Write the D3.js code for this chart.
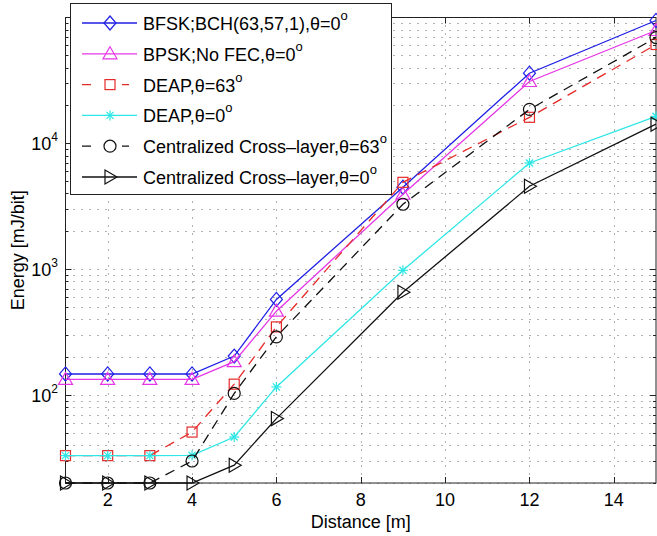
<!DOCTYPE html>
<html lang="en">
<head>
<meta charset="UTF-8">
<title>Energy vs Distance</title>
<script src="https://d3js.org/d3.v7.min.js"></script>
<style>
    body { margin: 0; background: #fff; }
    svg { display: block; font-family: "Liberation Sans", Arial, sans-serif; }
    .tick-label { font-size: 18px; fill: #000; }
    .legend-text { font-size: 18px; fill: #000; }
</style>
</head>
<body>
<svg width="657" height="536"></svg>
<script>
    // data
    const distance = [1, 2, 3, 4, 5, 6, 9, 12, 15];
    const bfskBch = [147, 147, 147, 147, 204, 575, 4480, 36100, 94700];
    const bpskNoFec = [133, 133, 133, 133, 184, 464, 3940, 31000, 78800];
    const deap63 = [33, 33, 33, 50.8, 122, 348, 4900, 16100, 61000];
    const deap0 = [33, 33, 33, 33.2, 46.4, 116, 980, 6980, 16400];
    const cross63 = [20, 20, 20, 29.9, 103, 290, 3280, 18600, 69300];
    const cross0 = [20, 20, 20, 20, 27.7, 65, 656, 4560, 14200];

    const xTicks = [2, 4, 6, 8, 10, 12, 14];
    const yMajor = [100, 1000, 10000];

    const series = [
        {name: "BFSK;BCH(63,57,1),θ=0", values: bfskBch, color: "#1f1fe6", dash: null, marker: "diamond"},
        {name: "BPSK;No FEC,θ=0", values: bpskNoFec, color: "#e636e6", dash: null, marker: "triUp"},
        {name: "DEAP,θ=63", values: deap63, color: "#e62a2a", dash: "10,7", marker: "square"},
        {name: "DEAP,θ=0", values: deap0, color: "#2de6e6", dash: null, marker: "star"},
        {name: "Centralized Cross\u2013layer,θ=63", values: cross63, color: "#111", dash: "10,7", marker: "circle"},
        {name: "Centralized Cross\u2013layer,θ=0", values: cross0, color: "#111", dash: null, marker: "triRight"}
    ];

    const svg = d3.select("svg");
    const pLeft = 65.5, pRight = 656, pTop = 17.5, pBottom = 483;

    const x = d3.scaleLinear().domain([1, 15]).range([pLeft, pRight]);
    const y = d3.scaleLog().domain([20, 100000]).range([pBottom, pTop]);

    // minor values for the log axis
    let yMinor = [];
    [10, 100, 1000, 10000].forEach(function (dec) {
        for (let k = 2; k <= 9; k++) {
            const v = dec * k;
            if (v >= 20 && v < 100000) yMinor.push(v);
        }
    });

    // grid
    const grid = svg.append("g").attr("stroke", "#666").attr("stroke-width", 1)
        .attr("stroke-dasharray", "1,7");
    grid.selectAll(".gx").data(xTicks).enter().append("line")
        .attr("x1", d => Math.round(x(d)) + 0.5).attr("x2", d => Math.round(x(d)) + 0.5)
        .attr("y1", pTop).attr("y2", pBottom);
    grid.selectAll(".gy").data(yMinor.concat(yMajor)).enter().append("line")
        .attr("x1", pLeft).attr("x2", pRight)
        .attr("y1", d => Math.round(y(d)) + 0.5).attr("y2", d => Math.round(y(d)) + 0.5);

    // axes box and ticks
    const axes = svg.append("g").attr("stroke", "#222").attr("stroke-width", 1);
    axes.append("rect").attr("x", pLeft).attr("y", pTop)
        .attr("width", pRight - pLeft).attr("height", pBottom - pTop).attr("fill", "none");
    xTicks.forEach(function (t) {
        const px = Math.round(x(t)) + 0.5;
        axes.append("line").attr("x1", px).attr("x2", px).attr("y1", pBottom).attr("y2", pBottom - 6);
        axes.append("line").attr("x1", px).attr("x2", px).attr("y1", pTop).attr("y2", pTop + 6);
    });
    yMajor.forEach(function (t) {
        const py = Math.round(y(t)) + 0.5;
        axes.append("line").attr("x1", pLeft).attr("x2", pLeft + 6).attr("y1", py).attr("y2", py);
        axes.append("line").attr("x1", pRight).attr("x2", pRight - 6).attr("y1", py).attr("y2", py);
    });
    yMinor.forEach(function (t) {
        const py = Math.round(y(t)) + 0.5;
        axes.append("line").attr("x1", pLeft).attr("x2", pLeft + 3).attr("y1", py).attr("y2", py);
        axes.append("line").attr("x1", pRight).attr("x2", pRight - 3).attr("y1", py).attr("y2", py);
    });

    // tick labels
    svg.selectAll(".xl").data(xTicks).enter().append("text")
        .attr("class", "tick-label").attr("x", d => x(d)).attr("y", 506)
        .attr("text-anchor", "middle").text(d => d);
    yMajor.forEach(function (t) {
        const txt = svg.append("text").attr("class", "tick-label")
            .attr("x", 58).attr("y", y(t) + 7).attr("text-anchor", "end");
        txt.append("tspan").text("10");
        txt.append("tspan").attr("dy", -9).attr("font-size", 12).text(Math.round(Math.log10(t)));
    });

    // axis titles
    svg.append("text").attr("class", "tick-label")
        .attr("x", x(8)).attr("y", 528).attr("text-anchor", "middle").text("Distance [m]");
    svg.append("text").attr("class", "tick-label")
        .attr("transform", "translate(24," + ((pTop + pBottom) / 2) + ") rotate(-90)")
        .attr("text-anchor", "middle").text("Energy [mJ/bit]");

    // marker drawing
    function drawMarker(g, kind, cx, cy, color) {
        const m = g.append("g").attr("transform", "translate(" + cx + "," + cy + ")")
            .attr("fill", "none").attr("stroke", color).attr("stroke-width", 1.2);
        if (kind === "diamond") {
            m.append("path").attr("d", "M0,-7L6,0L0,7L-6,0Z");
        } else if (kind === "triUp") {
            m.append("path").attr("d", "M0,-7L7,5L-7,5Z");
        } else if (kind === "square") {
            m.append("rect").attr("x", -5).attr("y", -5).attr("width", 10).attr("height", 10);
        } else if (kind === "circle") {
            m.append("circle").attr("r", 6);
        } else if (kind === "triRight") {
            m.append("path").attr("d", "M7,0L-5,-7L-5,7Z");
        } else if (kind === "star") {
            const r = 5;
            [0, 45, 90, 135].forEach(function (a) {
                const rad = a * Math.PI / 180;
                m.append("line").attr("x1", -r * Math.cos(rad)).attr("y1", -r * Math.sin(rad))
                    .attr("x2", r * Math.cos(rad)).attr("y2", r * Math.sin(rad));
            });
        }
    }

    // lines and markers
    const line = d3.line().x(d => x(d[0])).y(d => y(d[1]));
    const plot = svg.append("g");
    series.forEach(function (s) {
        const pts = distance.map((d, i) => [d, s.values[i]]);
        plot.append("path").datum(pts).attr("d", line)
            .attr("fill", "none").attr("stroke", s.color).attr("stroke-width", 1.3)
            .attr("stroke-dasharray", s.dash);
        pts.forEach(function (p) {
            drawMarker(plot, s.marker, x(p[0]), y(p[1]), s.color);
        });
    });

    // legend
    const leg = svg.append("g");
    leg.append("rect").attr("x", 70.5).attr("y", 3.5).attr("width", 321).attr("height", 191)
        .attr("fill", "#fff").attr("stroke", "#222").attr("stroke-width", 1);
    series.forEach(function (s, i) {
        const ly = 23 + i * 30.8;
        leg.append("line").attr("x1", 82).attr("x2", 137).attr("y1", ly).attr("y2", ly)
            .attr("stroke", s.color).attr("stroke-width", 1.3).attr("stroke-dasharray", s.dash ? "9,10" : null);
        if (s.dash) {
            // clear the middle so the marker stands out like the original
            leg.append("rect").attr("x", 98).attr("y", ly - 4).attr("width", 24).attr("height", 8).attr("fill", "#fff");
        }
        drawMarker(leg, s.marker, 110, ly, s.color);
        const t = leg.append("text").attr("class", "legend-text").attr("x", 143).attr("y", ly + 7);
        t.append("tspan").text(s.name);
        t.append("tspan").attr("dy", -10).attr("font-size", 13).text("o");
    });
</script>
</body>
</html>
